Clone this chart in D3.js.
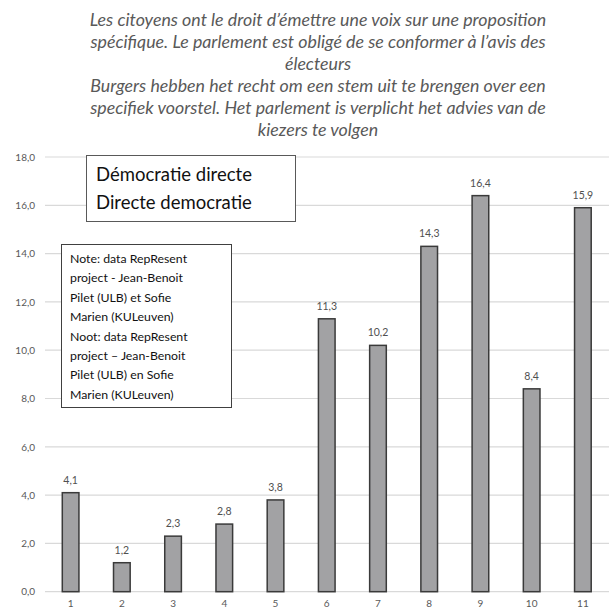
<!DOCTYPE html>
<html>
<head>
<meta charset="utf-8">
<script src="https://cdn.jsdelivr.net/npm/d3@7"></script>
<style>
  body { margin: 0; background: #fff; }
  svg { display: block; }
</style>
</head>
<body>
<div id="chart"></div>
<script>
// categories and values
var categories = ['1', '2', '3', '4', '5', '6', '7', '8', '9', '10', '11']
var values = [4.1, 1.2, 2.3, 2.8, 3.8, 11.3, 10.2, 14.3, 16.4, 8.4, 15.9]
var yTicks = [0, 2, 4, 6, 8, 10, 12, 14, 16, 18]

var titleLines = [
    'Les citoyens ont le droit d\u2019émettre une voix sur une proposition',
    'spécifique. Le parlement est obligé de se conformer à l\u2019avis des',
    'électeurs',
    'Burgers hebben het recht om een stem uit te brengen over een',
    'specifiek voorstel. Het parlement is verplicht het advies van de',
    'kiezers te volgen'
]
var headLines = ['Démocratie directe', 'Directe democratie']
var noteLines = [
    'Note: data RepResent',
    'project - Jean-Benoit',
    'Pilet (ULB) et Sofie',
    'Marien (KULeuven)',
    'Noot: data RepResent',
    'project \u2013 Jean-Benoit',
    'Pilet (ULB) en Sofie',
    'Marien (KULeuven)'
]

var W = 609, H = 612
var margin = {top: 157, right: 0.5, bottom: 20.3, left: 45},
    width = W - margin.left - margin.right,
    height = H - margin.top - margin.bottom

var font = "Lato, 'Open Sans', sans-serif"

var root = d3.select('#chart').append('svg')
    .attr('width', W)
    .attr('height', H)

// title
root.append('g')
    .selectAll('text')
    .data(titleLines)
    .enter()
    .append('text')
    .attr('x', 318)
    .attr('y', function(d, i){ return 26 + i * 22 })
    .attr('text-anchor', 'middle')
    .style('font-family', font)
    .style('font-style', 'italic')
    .style('font-size', '17.8px')
    .style('fill', '#595959')
    .text(function(d){ return d })

var svg = root.append('g')
    .attr('transform', 'translate(' + margin.left + ',' + margin.top + ')')

var x = d3.scaleBand()
    .domain(categories)
    .range([0, width])
    .paddingInner(0.675)
    .paddingOuter(0.3375)

var y = d3.scaleLinear()
    .domain([0, 18])
    .range([height, 0])

// gridlines
svg.append('g')
    .selectAll('line')
    .data(yTicks)
    .enter()
    .append('line')
    .attr('x1', 0)
    .attr('x2', width + 1)
    .attr('y1', function(d){ return y(d) })
    .attr('y2', function(d){ return y(d) })
    .attr('stroke', '#d9d9d9')
    .attr('stroke-width', 1.2)

// y axis labels
var yAxis = svg.append('g')
    .call(d3.axisLeft(y).tickValues(yTicks).tickSize(0).tickPadding(10)
        .tickFormat(function(d){ return d3.format('.1f')(d).replace('.', ',') }))
yAxis.select('.domain').remove()
yAxis.selectAll('text')
    .style('font-family', font)
    .style('font-size', '10px')
    .style('fill', '#595959')

// x axis labels
var xAxis = svg.append('g')
    .attr('transform', 'translate(0,' + height + ')')
    .call(d3.axisBottom(x).tickSize(0).tickPadding(8))
xAxis.select('.domain').remove()
xAxis.selectAll('text')
    .style('font-family', font)
    .style('font-size', '10px')
    .style('fill', '#595959')

// bars
svg.selectAll('bars')
    .data(values)
    .enter()
    .append('rect')
    .attr('x', function(d, i){ return x(categories[i]) })
    .attr('width', x.bandwidth())
    .attr('y', function(d){ return y(d) })
    .attr('height', function(d){ return height - y(d) })
    .style('fill', '#a2a2a4')
    .attr('stroke', '#3a3a3a')
    .attr('stroke-width', 1.5)

// value labels
svg.selectAll('valueLabels')
    .data(values)
    .enter()
    .append('text')
    .attr('x', function(d, i){ return x(categories[i]) + x.bandwidth() / 2 })
    .attr('y', function(d){ return y(d) - 9 })
    .attr('text-anchor', 'middle')
    .style('font-family', font)
    .style('font-size', '10.5px')
    .style('fill', '#505050')
    .text(function(d){ return d3.format('.1f')(d).replace('.', ',') })

// heading box
var head = root.append('g')
head.append('rect')
    .attr('x', 86.5).attr('y', 155.5)
    .attr('width', 209).attr('height', 66)
    .style('fill', '#fff')
    .attr('stroke', '#595959')
    .attr('stroke-width', 1)
head.selectAll('text')
    .data(headLines)
    .enter()
    .append('text')
    .attr('x', 96)
    .attr('y', function(d, i){ return 181 + i * 28 })
    .style('font-family', font)
    .style('font-size', '18.5px')
    .style('fill', '#111')
    .text(function(d){ return d })

// note box
var note = root.append('g')
note.append('rect')
    .attr('x', 61.5).attr('y', 244.5)
    .attr('width', 170).attr('height', 163)
    .style('fill', '#fff')
    .attr('stroke', '#404040')
    .attr('stroke-width', 1)
note.selectAll('text')
    .data(noteLines)
    .enter()
    .append('text')
    .attr('x', 70)
    .attr('y', function(d, i){ return 263 + i * 19.4 })
    .style('font-family', font)
    .style('font-size', '12.3px')
    .style('fill', '#111')
    .text(function(d){ return d })
</script>
</body>
</html>
